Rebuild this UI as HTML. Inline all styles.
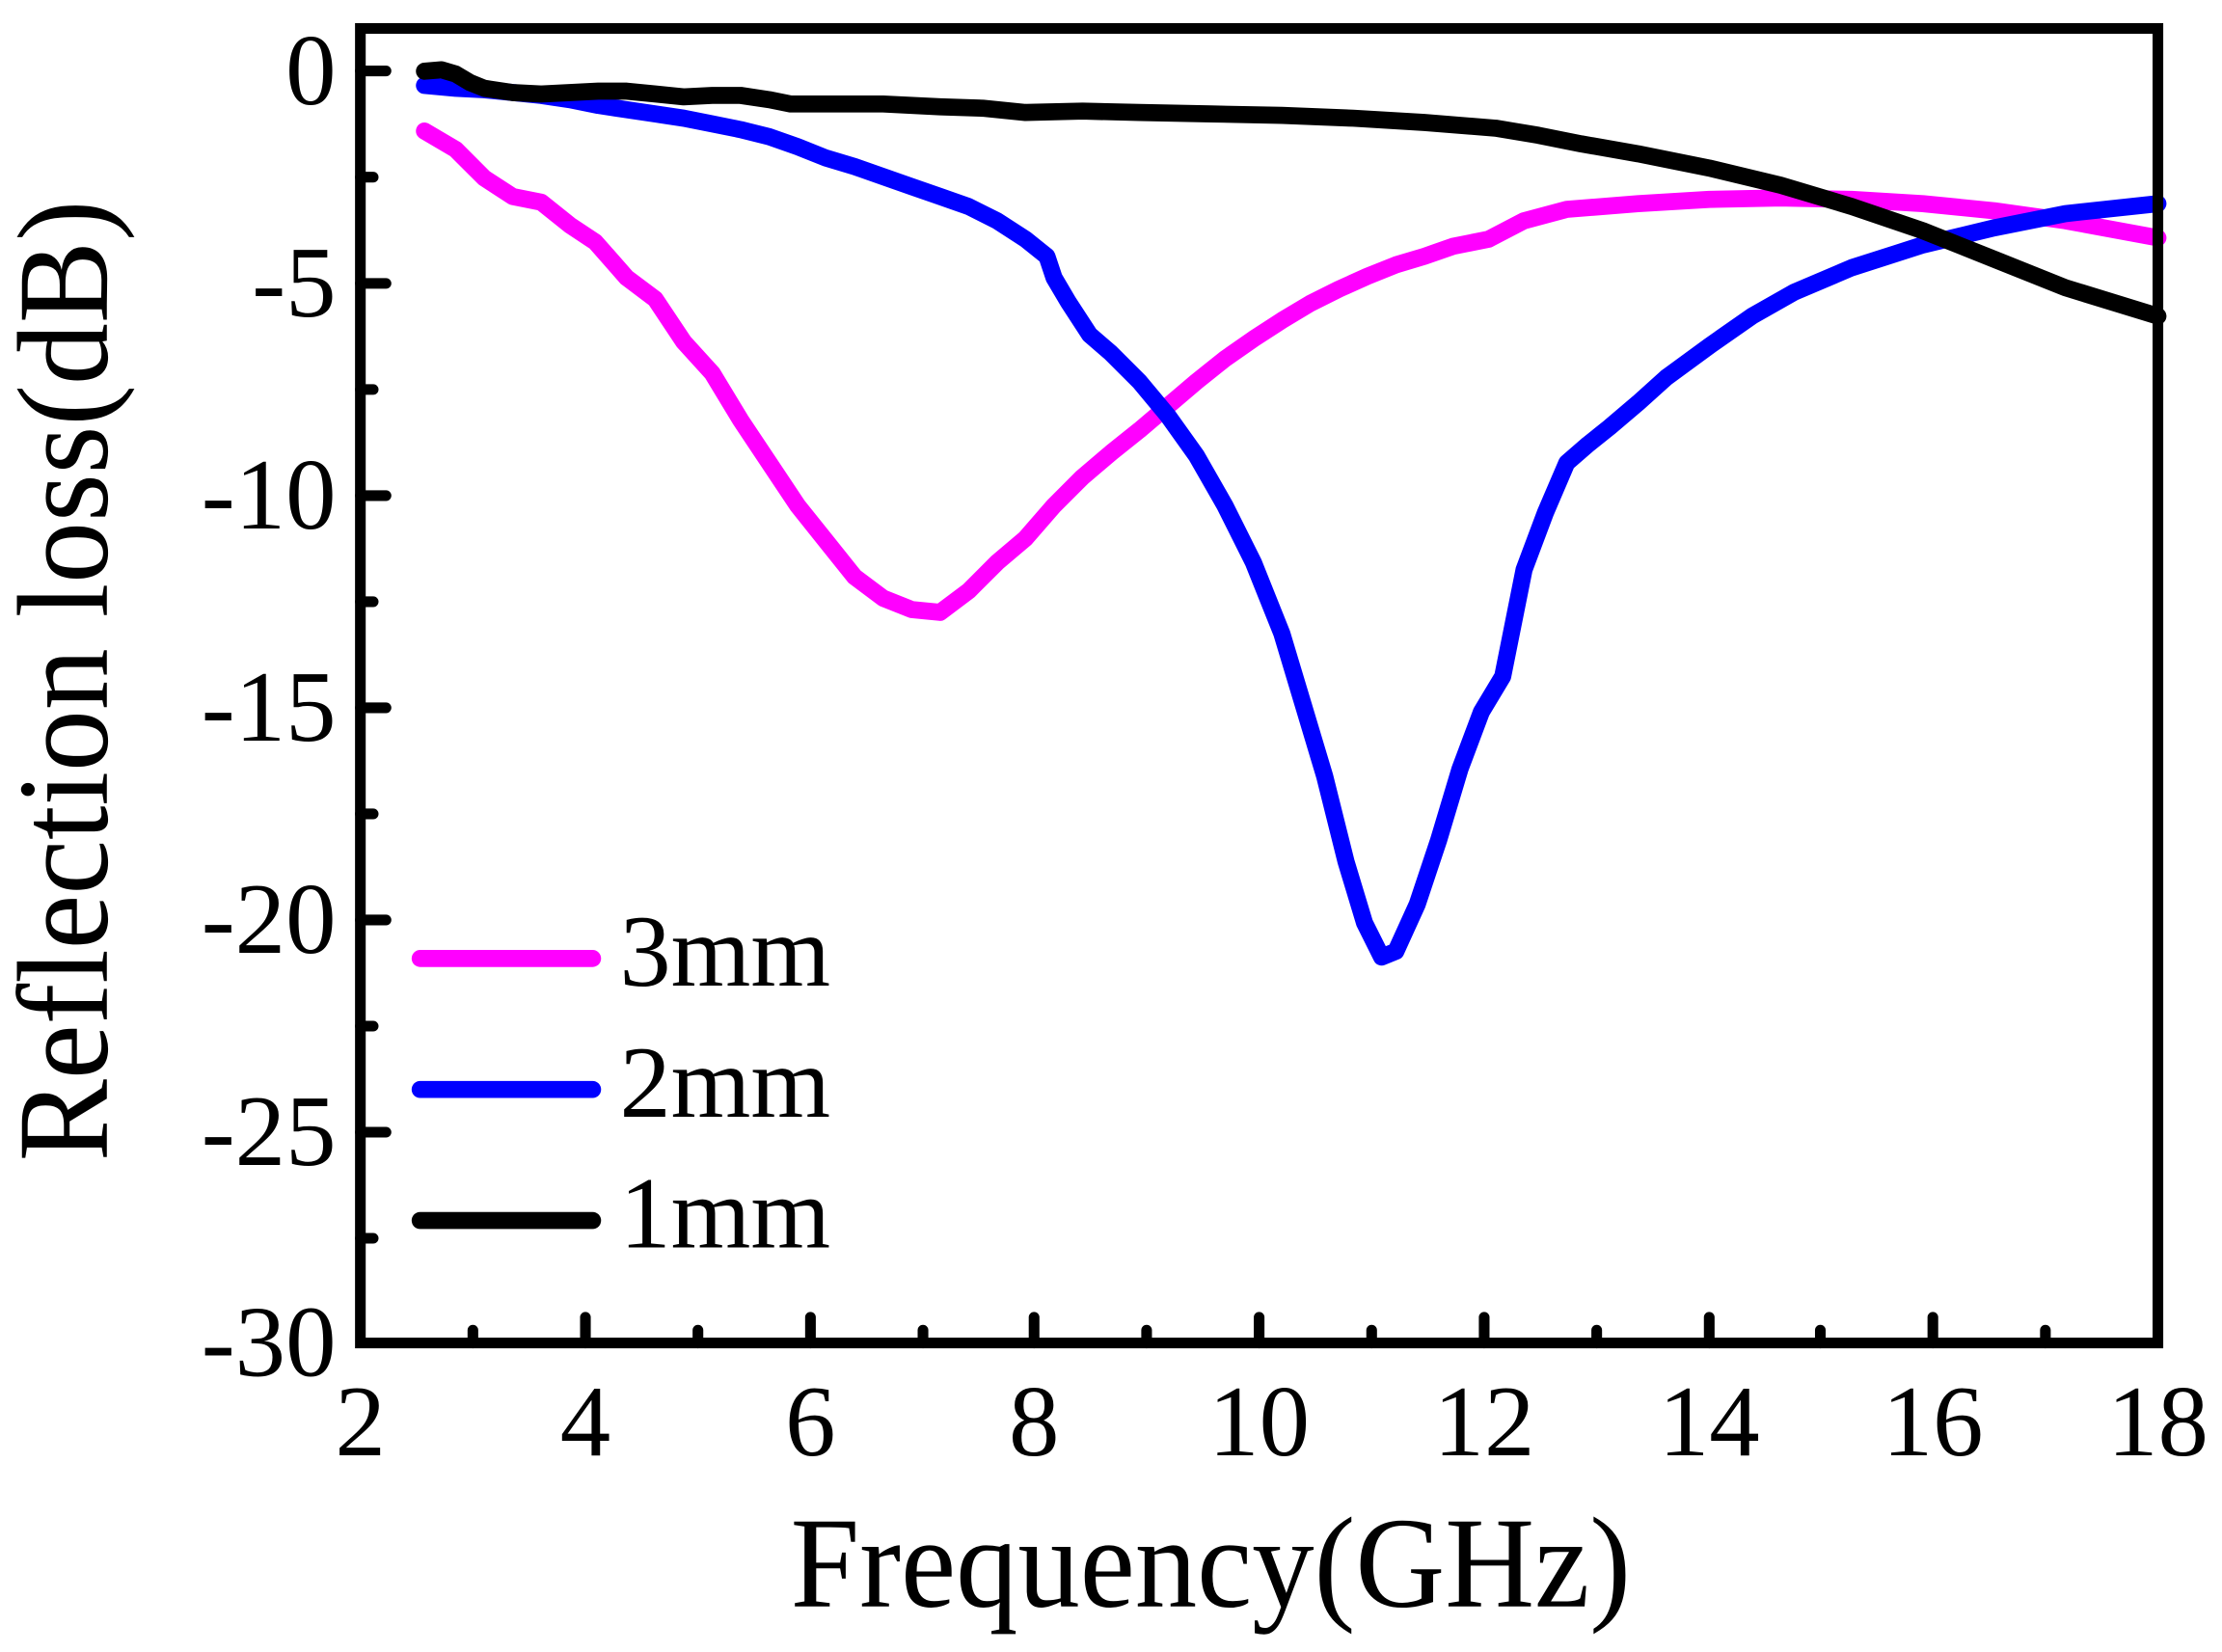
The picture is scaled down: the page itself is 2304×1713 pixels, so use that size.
<!DOCTYPE html>
<html><head><meta charset="utf-8"><style>
html,body{margin:0;padding:0;background:#fff;}
svg{display:block;}
text{font-family:"Liberation Serif","Times New Roman",serif;fill:#000;}
</style></head><body>
<svg width="2304" height="1713" viewBox="0 0 1560 1160" preserveAspectRatio="none" xmlns="http://www.w3.org/2000/svg">
<g fill="none" stroke-linecap="round" stroke-linejoin="round" stroke-width="12">
<polyline stroke="#ff00ff" points="298,92 320,105 340,125 360,138 380,142 400,158 418,170 440,195 460,210 480,240 500,262 520,295 540,325 560,355 580,380 600,405 620,420 640,428 660,430 680,415 700,395 720,378 740,355 760,335 780,318 800,302 820,285 840,268 860,252 880,238 900,225 920,213 940,203 960,194 980,186 1000,180 1020,173 1045,168 1070,155 1100,147 1150,143 1200,140 1250,139 1300,140 1350,143 1400,148 1450,155 1515,167"/>
<polyline stroke="#0000ff" points="298,60 320,62 340,63 360,65 380,67 400,70 420,74 440,77 460,80 480,83 500,87 520,91 540,96 560,103 580,111 600,117 620,124 640,131 660,138 680,145 700,155 720,168 735,180 740,195 750,212 765,235 780,248 800,268 820,292 840,320 860,355 880,395 900,445 915,495 930,545 945,605 958,648 970,672 980,668 995,635 1010,590 1025,540 1040,500 1055,475 1070,400 1085,360 1100,325 1115,312 1130,300 1150,283 1170,265 1200,243 1230,222 1260,205 1300,188 1350,172 1400,160 1450,150 1515,143"/>
<polyline stroke="#000" points="298,50 310,49 320,52 330,58 340,62 360,65 380,66 400,65 420,64 440,64 460,66 480,68 500,67 520,67 540,70 555,73 580,73 620,73 660,75 690,76 720,79 760,78 800,79 850,80 900,81 950,83 1000,86 1050,90 1080,95 1110,101 1150,108 1200,118 1250,130 1300,145 1350,162 1400,182 1450,202 1515,222"/>
<line stroke="#ff00ff" x1="295" y1="673" x2="416" y2="673"/>
<line stroke="#0000ff" x1="295" y1="765" x2="416" y2="765"/>
<line stroke="#000" x1="295" y1="857" x2="416" y2="857"/>
</g>
<g stroke="#000" stroke-width="7.5" fill="none" stroke-linecap="round">
<rect x="253" y="20" width="1262" height="923"/>
<path d="M253,49.8h18 M253,199h18 M253,348h18 M253,497h18 M253,646h18 M253,795h18
M253,124.4h9 M253,273.5h9 M253,422.5h9 M253,571.5h9 M253,720.5h9 M253,869.5h9
M411,943v-18 M569,943v-18 M726,943v-18 M884,943v-18 M1042,943v-18 M1200,943v-18 M1357,943v-18
M332,943v-9 M490,943v-9 M648,943v-9 M805,943v-9 M963,943v-9 M1121,943v-9 M1278,943v-9 M1436,943v-9"/>
</g>
<g font-size="71" text-anchor="end">
<text x="236" y="73">0</text>
<text x="236" y="222">-5</text>
<text x="236" y="371">-10</text>
<text x="236" y="520">-15</text>
<text x="236" y="669">-20</text>
<text x="236" y="818">-25</text>
<text x="236" y="966">-30</text>
</g>
<g font-size="71" text-anchor="middle">
<text x="253" y="1022">2</text>
<text x="411" y="1022">4</text>
<text x="569" y="1022">6</text>
<text x="726" y="1022">8</text>
<text x="884" y="1022">10</text>
<text x="1042" y="1022">12</text>
<text x="1200" y="1022">14</text>
<text x="1357" y="1022">16</text>
<text x="1515" y="1022">18</text>
</g>
<g font-size="72">
<text x="435" y="692">3mm</text>
<text x="435" y="784">2mm</text>
<text x="435" y="876">1mm</text>
</g>
<text x="850" y="1128" font-size="91" text-anchor="middle" textLength="590" lengthAdjust="spacingAndGlyphs">Frequency(GHz)</text>
<text transform="translate(75,478) rotate(-90)" font-size="91" text-anchor="middle" textLength="675" lengthAdjust="spacingAndGlyphs">Reflection loss(dB)</text>
</svg>
</body></html>
